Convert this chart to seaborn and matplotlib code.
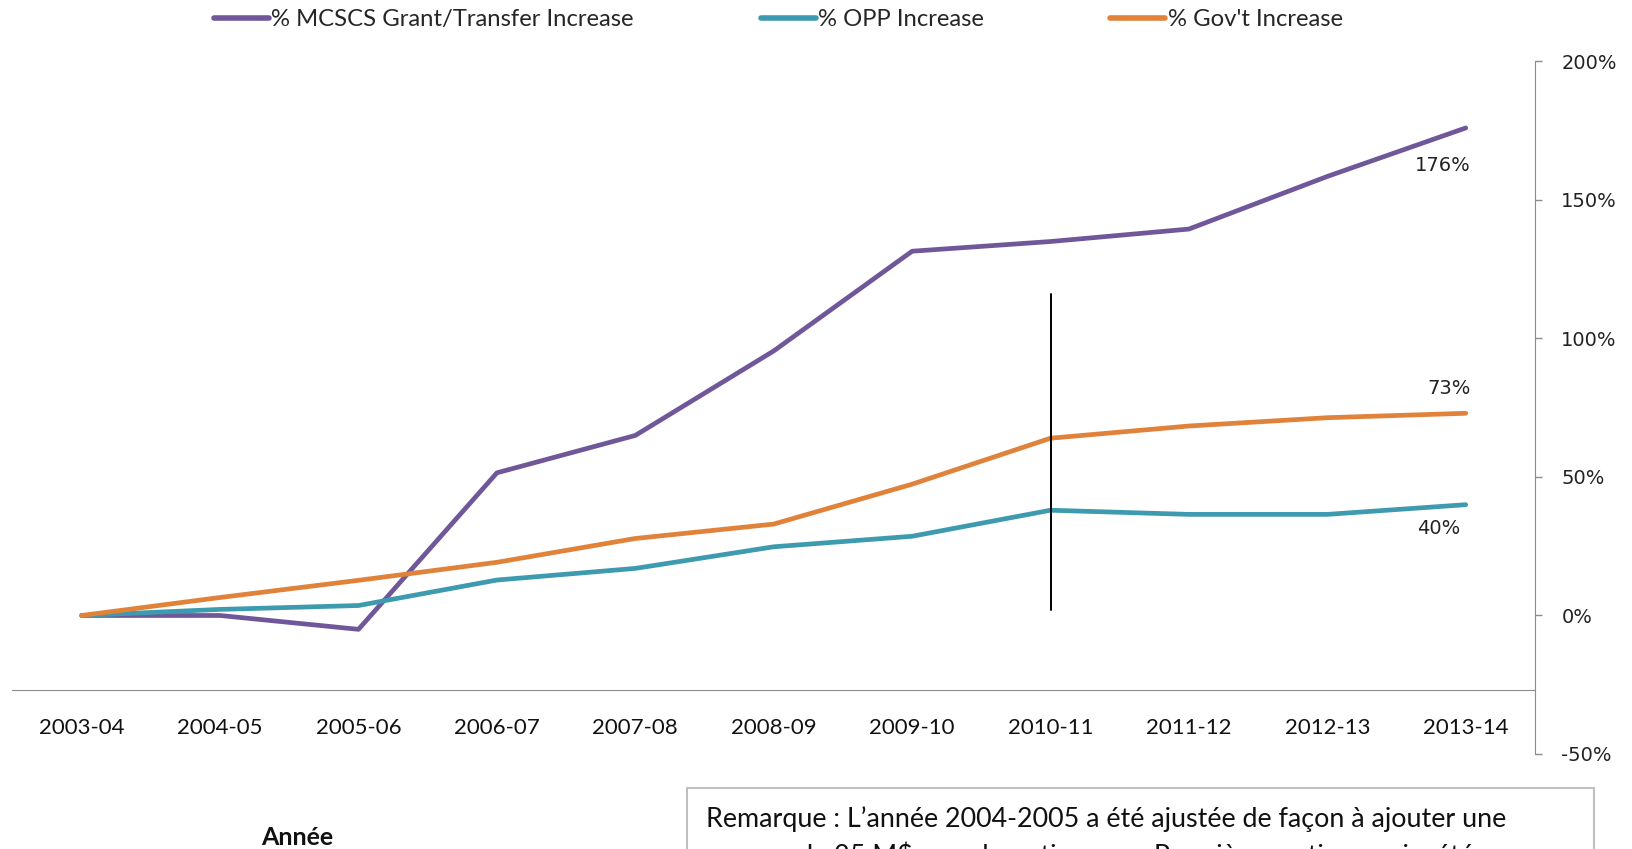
import matplotlib
matplotlib.use("Agg")
import matplotlib.pyplot as plt
import matplotlib.ticker as mticker
from matplotlib.patches import Rectangle
import pandas as pd
import seaborn as sns

years = ["2003-04", "2004-05", "2005-06", "2006-07", "2007-08", "2008-09",
         "2009-10", "2010-11", "2011-12", "2012-13", "2013-14"]
mcscs_pct = [0, 0, -5, 51.5, 65, 95.5, 131.5, 135, 139.5, 158.5, 176]
opp_pct = [0, 2.2, 3.6, 12.8, 17, 24.8, 28.6, 38, 36.5, 36.5, 40]
gov_pct = [0, 6.5, 12.7, 19.2, 27.8, 33, 47.4, 64, 68.4, 71.4, 73]
series_names = ["% MCSCS Grant/Transfer Increase", "% OPP Increase", "% Gov't Increase"]
end_labels = ["176%", "40%", "73%"]
y_ticks = [-50, 0, 50, 100, 150, 200]
marker_year = "2010-11"
marker_span = [2, 116]
note_lines = [
    "Remarque : L\u2019ann\u00e9e 2004-2005 a \u00e9t\u00e9 ajust\u00e9e de fa\u00e7on \u00e0 ajouter une",
    "somme de 25 M$ en subventions aux Premi\u00e8res nations qui a \u00e9t\u00e9",
]

colors = ["#6F579A", "#3D9AAF", "#E0823A"]

df = pd.DataFrame({
    "year": years * 3,
    "pct": mcscs_pct + opp_pct + gov_pct,
    "series": [s for s in series_names for _ in years],
})

sns.set_style("white")
plt.rcParams["font.family"] = ["Lato", "DejaVu Sans"]
plt.rcParams["axes.unicode_minus"] = False

fig = plt.figure(figsize=(16.33, 8.49), dpi=100)
ax = fig.add_axes([0.00765, 0.1119, 0.9323, 0.8157])

sns.lineplot(data=df, x="year", y="pct", hue="series", hue_order=series_names,
             palette=colors, linewidth=3.4, ax=ax, sort=False)
for ln in ax.get_lines():
    ln.set_solid_capstyle("round")
    ln.set_solid_joinstyle("round")

# vertical marker line
mx = years.index(marker_year)
ax.plot([mx, mx], marker_span, color="black", lw=1.4, zorder=5)

# end-of-line labels
last = len(years) - 1
offsets = [(-23, -38), (-27, -24), (-17, 25)]
for vals, lab, off in zip([mcscs_pct, opp_pct, gov_pct], end_labels, offsets):
    ax.annotate(lab, (last, vals[-1]), xytext=off, textcoords="offset pixels",
                ha="center", va="center", fontsize=14, family="DejaVu Sans",
                color="#222222")

ax.set_xlim(-0.5, len(years) - 0.5)
ax.set_ylim(-50, 200)

# right value axis
ax.yaxis.tick_right()
ax.set_yticks(y_ticks)
ax.yaxis.set_major_formatter(mticker.PercentFormatter(decimals=0))
ax.tick_params(axis="y", direction="out", length=5, width=1, color="#8c8c8c",
               pad=14, labelsize=14, labelcolor="#222222")
for lab in ax.get_yticklabels():
    lab.set_family("DejaVu Sans")

# category axis
ax.set_xticks(range(len(years)))
ax.set_xticklabels(years)
ax.set_xticks([i - 0.5 for i in range(len(years) + 1)], minor=True)
ax.tick_params(axis="x", which="major", length=0, pad=20, labelsize=16,
               labelcolor="#111111")
ax.tick_params(axis="x", which="minor", direction="out", length=8, width=1,
               color="#8c8c8c")
ax.set_xlabel("")
ax.set_ylabel("")

for side in ["top", "left"]:
    ax.spines[side].set_visible(False)
ax.spines["right"].set_color("#8c8c8c")
ax.spines["bottom"].set_color("#8c8c8c")
ax.spines["bottom"].set_position(("data", -27))

handles, labels = ax.get_legend_handles_labels()
ax.get_legend().remove()
leg = fig.legend(handles, labels, loc="center", bbox_to_anchor=(0.4767, 0.977),
                 ncol=3, frameon=False, fontsize=17.2, handlelength=2.3,
                 handletextpad=0.1, columnspacing=5.3)
for h in leg.legend_handles:
    h.set_linewidth(4)
    h.set_solid_capstyle("round")

fig.text(0.182, 0.013, "Ann\u00e9e", ha="center", va="center", fontsize=18,
         fontweight="bold", color="#111111")

fig.add_artist(Rectangle((687 / 1633, -0.1), (1594 - 687) / 1633, 0.1 + (849 - 788) / 849,
                         transform=fig.transFigure, fill=False,
                         edgecolor="#bfbfbf", lw=1.5))
fig.text(706 / 1633, 1 - 819 / 849, note_lines[0], ha="left", va="center",
         fontsize=19.4, color="#111111")
fig.text(706 / 1633, 1 - 855 / 849, note_lines[1], ha="left", va="center",
         fontsize=19.4, color="#111111")

fig.savefig("out.png", dpi=100)
plt.close(fig)
